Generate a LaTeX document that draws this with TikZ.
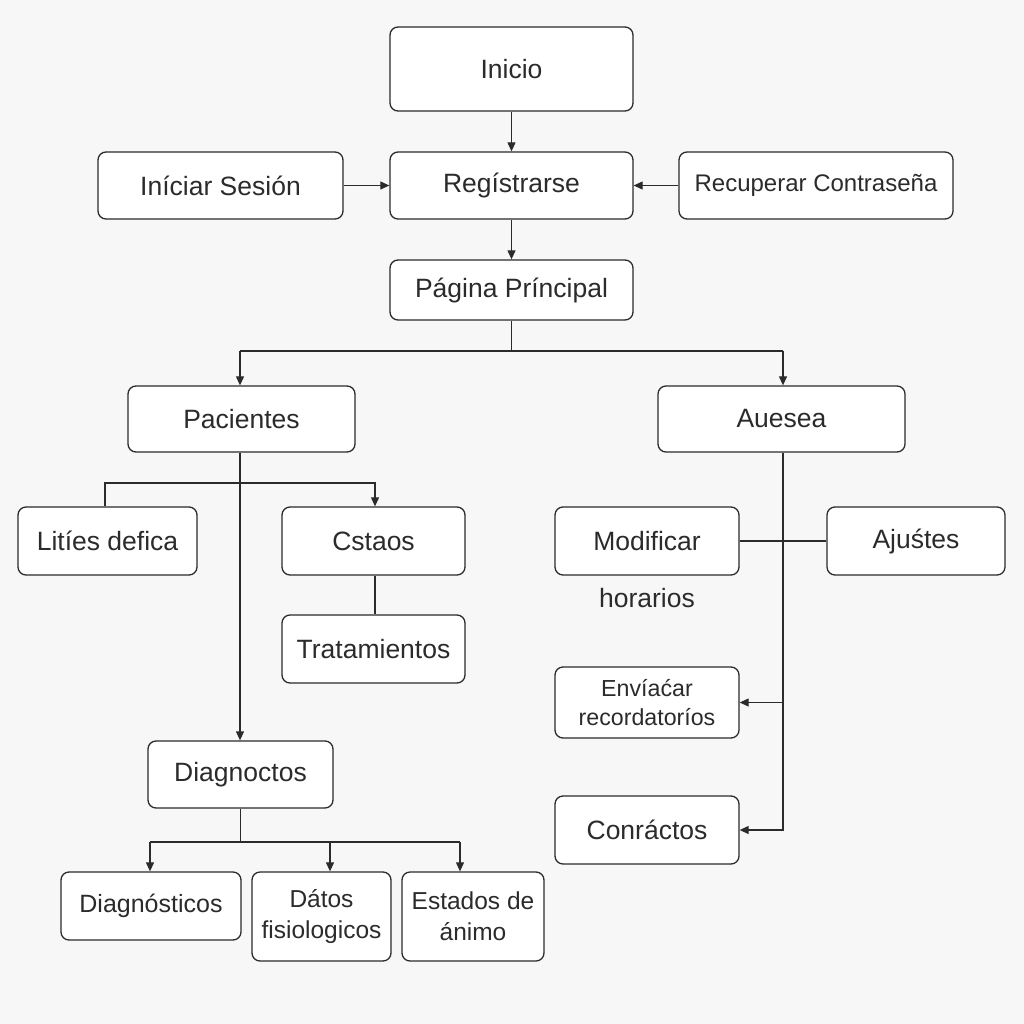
\documentclass[tikz,border=0pt]{standalone}
\usepackage{fontspec}
\setmainfont{Liberation Sans}
\usetikzlibrary{arrows.meta}
\definecolor{bg}{HTML}{F7F7F7}
\definecolor{ink}{HTML}{2B2B2B}
\begin{document}
\begin{tikzpicture}[x=1pt,y=-1pt,
  box/.style={draw=ink,fill=white,line width=1.3pt,rounded corners=8pt,inner sep=0pt,align=center,text=ink,
    font=\fontsize{26.5}{31}\selectfont},
  conn/.style={draw=ink,line width=1.1pt},
  arr/.style={conn,-{Triangle[length=9pt,width=8pt]}}]
\fill[bg] (0,0) rectangle (1024,1024);
\useasboundingbox (0,0) rectangle (1024,1024);
% nodes
\node[box,minimum width=243pt,minimum height=84pt] (inicio) at (511.5,69) {Inicio};
\node[box,minimum width=245pt,minimum height=67pt] (sesion) at (220.5,185.5) {Iníciar Sesión};
\node[box,minimum width=243pt,minimum height=67pt] (registrarse) at (511.5,185.5) {Regístrarse};
\node[box,minimum width=274pt,minimum height=67pt,font=\fontsize{24}{29}\selectfont] (recuperar) at (816,185.5) {Recuperar Contraseña};
\node[box,minimum width=243pt,minimum height=60pt] (pagina) at (511.5,290) {Página Príncipal};
\node[box,minimum width=227pt,minimum height=66pt] (pacientes) at (241.5,419) {Pacientes};
\node[box,minimum width=247pt,minimum height=66pt] (auesea) at (781.5,419) {Auesea};
\node[box,minimum width=179pt,minimum height=68pt] (lities) at (107.5,541) {Litíes defica};
\node[box,minimum width=183pt,minimum height=68pt] (cstaos) at (373.5,541) {Cstaos};
\node[box,minimum width=183pt,minimum height=68pt] (tratamientos) at (373.5,649) {Tratamientos};
\node[box,minimum width=185pt,minimum height=67pt] (diagnoctos) at (240.5,774.5) {Diagnoctos};
\node[box,minimum width=180pt,minimum height=68pt,font=\fontsize{25}{30}\selectfont] (diagnosticos) at (151,906) {Diagnósticos};
\node[box,minimum width=139pt,minimum height=89pt,font=\fontsize{24.5}{31}\selectfont] (datos) at (321.5,916.5) {Dátos\\fisiologicos};
\node[box,minimum width=142pt,minimum height=89pt,font=\fontsize{24.5}{31}\selectfont] (estados) at (473,916.5) {Estados de\\ánimo};
\node[box,minimum width=184pt,minimum height=68pt] (modificar) at (647,541) {Modificar};
\node[box,minimum width=178pt,minimum height=68pt] (ajustes) at (916,541) {Ajuśtes};
\node[text=ink,font=\fontsize{26.5}{31}\selectfont] (horarios) at (647,598) {horarios};
\node[box,minimum width=184pt,minimum height=71pt,font=\fontsize{23.2}{29}\selectfont] (enviar) at (647,702.5) {Envíaćar\\recordatoríos};
\node[box,minimum width=184pt,minimum height=68pt] (contactos) at (647,830) {Conráctos};
% connectors
\draw[arr] (inicio) -- (registrarse);
\draw[arr] (sesion) -- (registrarse);
\draw[arr] (recuperar) -- (registrarse);
\draw[arr] (registrarse) -- (pagina);
\coordinate (pj) at (511.5,351);
\draw[conn] (pagina.south) -- (pj);
\draw[conn] ([xshift=-1.5pt]pacientes.north |- pj) -- ([xshift=1.5pt]auesea.north |- pj);
\draw[arr] ([xshift=-1.5pt]pacientes.north |- pj) -- ([xshift=-1.5pt]pacientes.north);
\draw[arr] ([xshift=1.5pt]auesea.north |- pj) -- ([xshift=1.5pt]auesea.north);
\draw[arr] ([xshift=-1.5pt]pacientes.south) -- ([xshift=-1.5pt]pacientes.south |- diagnoctos.north);
\coordinate (pb) at (240,483);
\draw[arr] ([xshift=-2.5pt]lities.north) |- ([xshift=1.5pt]cstaos.north |- pb) -- ([xshift=1.5pt]cstaos.north);
\draw[conn] ([xshift=1.5pt]cstaos.south) -- ([xshift=1.5pt]tratamientos.north);
\coordinate (db) at (240.5,842);
\draw[conn] (diagnoctos.south) -- (db);
\draw[conn] ([xshift=-1pt]diagnosticos.north |- db) -- ([xshift=-13pt]estados.north |- db);
\draw[arr] ([xshift=-1pt]diagnosticos.north |- db) -- ([xshift=-1pt]diagnosticos.north);
\draw[arr] ([xshift=8.5pt]datos.north |- db) -- ([xshift=8.5pt]datos.north);
\draw[arr] ([xshift=-13pt]estados.north |- db) -- ([xshift=-13pt]estados.north);
\draw[arr] ([xshift=1.5pt]auesea.south) |- (contactos.east);
\draw[arr] ([xshift=1.5pt]auesea.south |- enviar.east) -- (enviar.east);
\draw[conn] (modificar.east) -- (ajustes.west);
\end{tikzpicture}
\end{document}
